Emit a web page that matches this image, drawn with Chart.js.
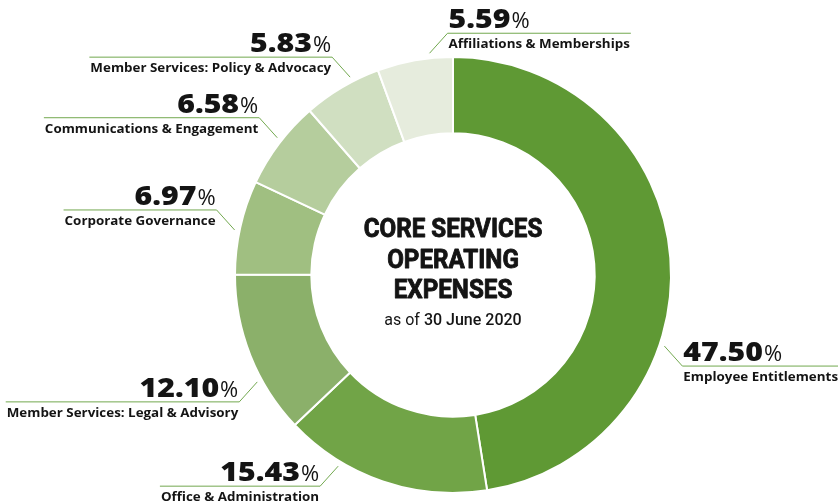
<!DOCTYPE html>
<html>
<head>
<meta charset="utf-8">
<script src="https://cdn.jsdelivr.net/npm/chart.js@4.4.1/dist/chart.umd.min.js"></script>
<style>
html,body{margin:0;padding:0;background:#fff;}
#wrap{width:838px;height:502px;}
canvas{display:block;}
</style>
</head>
<body>
<div id="wrap"><canvas id="opex" width="838" height="502"></canvas></div>
<script>
const categories = [
  'Employee Entitlements',
  'Office & Administration',
  'Member Services: Legal & Advisory',
  'Corporate Governance',
  'Communications & Engagement',
  'Member Services: Policy & Advocacy',
  'Affiliations & Memberships'
];
const shares = [47.50, 15.43, 12.10, 6.97, 6.58, 5.83, 5.59];
const colours = ['#5f9934', '#71a447', '#8bb06a', '#a0bf81', '#b5cd9d', '#d0dfc1', '#e6ecdd'];
const titleLines = ['CORE SERVICES', 'OPERATING', 'EXPENSES'];
const subtitleParts = ['as of ', '30 June 2020'];

// where each leader leaves the ring (fraction along its arc) and which way it bends
const labelSpots = [
  {at: 0.635, side: 1,  up: false},
  {at: 0.72,  side: -1, up: false},
  {at: 0.34,  side: -1, up: false},
  {at: 0.46,  side: -1, up: true},
  {at: 0.54,  side: -1, up: true},
  {at: 0.65,  side: -1, up: true},
  {at: 0.70,  side: 1,  up: true}
];

const INK = '#141414';
const LEADER = '#72a84f';
const NUM_FONT = '800 27px "Open Sans"';
const PCT_FONT = '500 22px "Open Sans"';
const NAME_FONT = '700 12.4px "Open Sans"';
const NUM_STRETCH = 1.12;
const NAME_STRETCH = 1.08;

// draw text horizontally stretched, left edge at x
function stretchText(ctx, text, x, y, k){
  ctx.save();
  ctx.translate(x, y);
  ctx.scale(k, 1);
  ctx.fillText(text, 0, 0);
  ctx.restore();
}

const labelPlugin = {
  id: 'leaderLabels',
  afterDraw(chart){
    const ctx = chart.ctx;
    const meta = chart.getDatasetMeta(0);
    ctx.save();
    meta.data.forEach((arc, i) => {
      const p = arc.getProps(['x','y','startAngle','endAngle','outerRadius'], true);
      const s = labelSpots[i];
      const a = p.startAngle + (p.endAngle - p.startAngle) * s.at;
      const r = p.outerRadius + 5;
      const ax = p.x + Math.cos(a) * r, ay = p.y + Math.sin(a) * r;
      const ex = ax + s.side * 18, ey = ay + (s.up ? -20 : 20);

      const num = shares[i].toFixed(2);
      ctx.font = NUM_FONT; const numW = ctx.measureText(num).width * NUM_STRETCH;
      ctx.font = PCT_FONT; const pctW = ctx.measureText('%').width;
      ctx.font = NAME_FONT; const nameW = ctx.measureText(categories[i]).width * NAME_STRETCH;
      const topW = numW + 1 + pctW;
      const len = Math.max(topW, nameW) + 2;

      ctx.strokeStyle = LEADER; ctx.lineWidth = 1;
      ctx.beginPath();
      ctx.moveTo(ax, ay); ctx.lineTo(ex, ey); ctx.lineTo(ex + s.side * len, ey);
      ctx.stroke();

      ctx.fillStyle = INK; ctx.textBaseline = 'alphabetic'; ctx.textAlign = 'left';
      const tx = s.side > 0 ? ex + 1 : ex - 1 - topW;
      ctx.font = NUM_FONT; stretchText(ctx, num, tx, ey - 5, NUM_STRETCH);
      ctx.font = PCT_FONT; ctx.fillText('%', tx + numW + 1, ey - 5);
      const nx = s.side > 0 ? ex + 1 : ex - 1 - nameW;
      ctx.font = NAME_FONT; stretchText(ctx, categories[i], nx, ey + 15, NAME_STRETCH);
    });
    ctx.restore();
  }
};

const centrePlugin = {
  id: 'centreTitle',
  afterDraw(chart){
    const ctx = chart.ctx;
    const arc = chart.getDatasetMeta(0).data[0];
    const cx = arc.x, cy = arc.y;
    ctx.save();
    ctx.fillStyle = INK; ctx.strokeStyle = INK; ctx.lineWidth = 0.9; ctx.lineJoin = 'round';
    ctx.textAlign = 'center'; ctx.textBaseline = 'alphabetic';
    const squeeze = 0.93;
    ctx.font = '700 26px Roboto';
    titleLines.forEach((t, k) => {
      ctx.save();
      ctx.translate(cx, cy - 38 + k * 30.5);
      ctx.scale(squeeze, 1);
      ctx.fillText(t, 0, 0);
      ctx.strokeText(t, 0, 0); // heavier face
      ctx.restore();
    });
    // subtitle: light lead-in, heavier date
    const f1 = '400 16px Roboto', f2 = '500 16px Roboto';
    ctx.font = f1; const w1 = ctx.measureText(subtitleParts[0]).width;
    ctx.font = f2; const w2 = ctx.measureText(subtitleParts[1]).width;
    ctx.textAlign = 'left';
    const sx = cx - (w1 + w2) / 2;
    ctx.font = f1; ctx.fillText(subtitleParts[0], sx, cy + 50);
    ctx.font = f2; ctx.fillText(subtitleParts[1], sx + w1, cy + 50);
    ctx.restore();
  }
};

new Chart(document.getElementById('opex'), {
  type: 'doughnut',
  data: {
    labels: categories,
    datasets: [{
      data: shares,
      backgroundColor: colours,
      borderColor: '#ffffff',
      borderWidth: 2
    }]
  },
  options: {
    responsive: false,
    animation: false,
    cutout: '65%',
    layout: {padding: {left: 234, right: 166, top: 56, bottom: 8}},
    plugins: {legend: {display: false}, tooltip: {enabled: false}}
  },
  plugins: [labelPlugin, centrePlugin]
});
</script>
</body>
</html>
